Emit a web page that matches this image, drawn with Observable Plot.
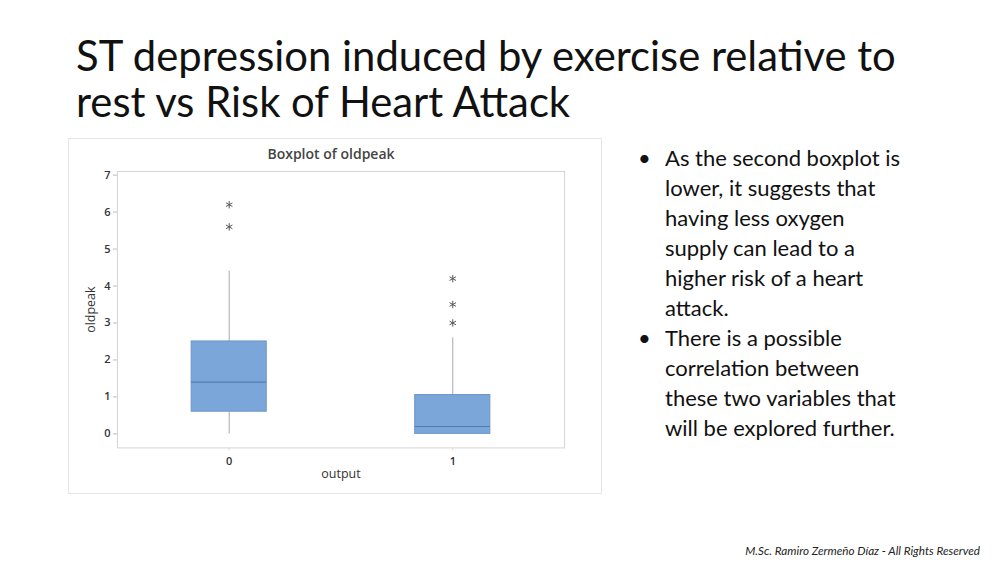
<!DOCTYPE html>
<html>
<head>
<meta charset="utf-8">
<script src="https://cdn.jsdelivr.net/npm/d3@7"></script>
<script src="https://cdn.jsdelivr.net/npm/@observablehq/plot@0.6"></script>
<style>
  html, body { margin: 0; padding: 0; background: #fff; }
  #page { position: relative; width: 1000px; height: 563px; overflow: hidden; background: #fff; font-family: Lato, sans-serif; }
  #title { position: absolute; left: 76px; top: 32px; font-size: 41.8px; line-height: 46.3px; color: #111; white-space: nowrap; }
  #panel { position: absolute; left: 68px; top: 138px; width: 532px; height: 354px; border: 1px solid #e4e4e4; }
  #ctitle { position: absolute; left: 0; width: 524px; top: 5px; text-align: center; font-family: "Open Sans", sans-serif; font-size: 14px; font-weight: 600; color: #444; }
  #chart { position: absolute; left: -1px; top: -1px; }
  #notes { position: absolute; left: 638px; top: 143px; width: 360px; font-size: 22px; line-height: 30px; color: #111; white-space: nowrap; }
  #notes div { position: relative; padding-left: 27px; }
  #notes div::before { content: "•"; position: absolute; left: 0; top: 0; }
  #footer { position: absolute; right: 20px; top: 543px; font-size: 11.7px; font-style: italic; color: #222; white-space: nowrap; }
</style>
</head>
<body>
<div id="page">
  <div id="title">ST depression induced by exercise relative to<br>rest vs Risk of Heart Attack</div>
  <div id="panel">
    <div id="chart"></div>
    <div id="ctitle">Boxplot of oldpeak</div>
  </div>
  <div id="notes">
    <div>As the second boxplot is<br>lower, it suggests that<br>having less oxygen<br>supply can lead to a<br>higher risk of a heart<br>attack.</div>
    <div>There is a possible<br>correlation between<br>these two variables that<br>will be explored further.</div>
  </div>
  <div id="footer">M.Sc. Ramiro Zermeño Díaz - All Rights Reserved</div>
</div>
<script>
// Data
const categories = [0, 1];
const whiskerLow = [0, 0];
const q1 = [0.6, 0];
const median = [1.4, 0.2];
const q3 = [2.5, 1.05];
const whiskerHigh = [4.4, 2.6];
const outlierGroup = [0, 0, 1, 1, 1];
const outlierValue = [6.2, 5.6, 4.2, 3.5, 3.0];
const yTicks = [0, 1, 2, 3, 4, 5, 6, 7];

const boxes = categories.map((c, i) => ({
  output: c, lo: whiskerLow[i], q1: q1[i], med: median[i], q3: q3[i], hi: whiskerHigh[i]
}));
const outliers = outlierGroup.map((g, i) => ({output: g, v: outlierValue[i]}));
const half = 0.168;

const chart = Plot.plot({
  width: 534,
  height: 356,
  marginLeft: 49,
  marginRight: 37,
  marginTop: 33,
  marginBottom: 46,
  style: {fontFamily: "'Open Sans', sans-serif", fontSize: "11px", color: "#333", background: "transparent"},
  x: {domain: [-0.5, 1.5]},
  y: {domain: [-0.38, 7.1]},
  marks: [
    Plot.frame({stroke: "#d4d4d4"}),
    Plot.axisY({ticks: yTicks, tickSize: 4, tickPadding: 3, stroke: "#bbb", fontWeight: 600, fill: "#333", label: null}),
    Plot.axisX({ticks: categories, tickFormat: d => String(d), tickSize: 3, tickPadding: 6, stroke: "#ddd", fontWeight: 600, fill: "#333", label: null}),
    Plot.text(["oldpeak"], {frameAnchor: "left", textAnchor: "middle", lineAnchor: "middle", dx: -26, rotate: -90, fontSize: 12.5, fill: "#333"}),
    Plot.text(["output"], {frameAnchor: "bottom", textAnchor: "middle", lineAnchor: "middle", dy: 26, fontSize: 12.5, fill: "#333"}),
    Plot.ruleX(boxes, {x: "output", y1: "lo", y2: "q1", stroke: "#aaa", strokeWidth: 1}),
    Plot.ruleX(boxes, {x: "output", y1: "q3", y2: "hi", stroke: "#aaa", strokeWidth: 1}),
    Plot.rect(boxes, {x1: d => d.output - half, x2: d => d.output + half, y1: "q1", y2: "q3",
      fill: "#7ba6d9", stroke: "#6b95c8", strokeWidth: 1}),
    Plot.ruleY(boxes, {x1: d => d.output - half, x2: d => d.output + half, y: "med", stroke: "#507cb3", strokeWidth: 1.2}),
    Plot.dot(outliers, {x: "output", y: "v", symbol: "asterisk", r: 3.5, stroke: "#555", strokeWidth: 1})
  ]
});
document.getElementById("chart").appendChild(chart);
</script>
</body>
</html>
